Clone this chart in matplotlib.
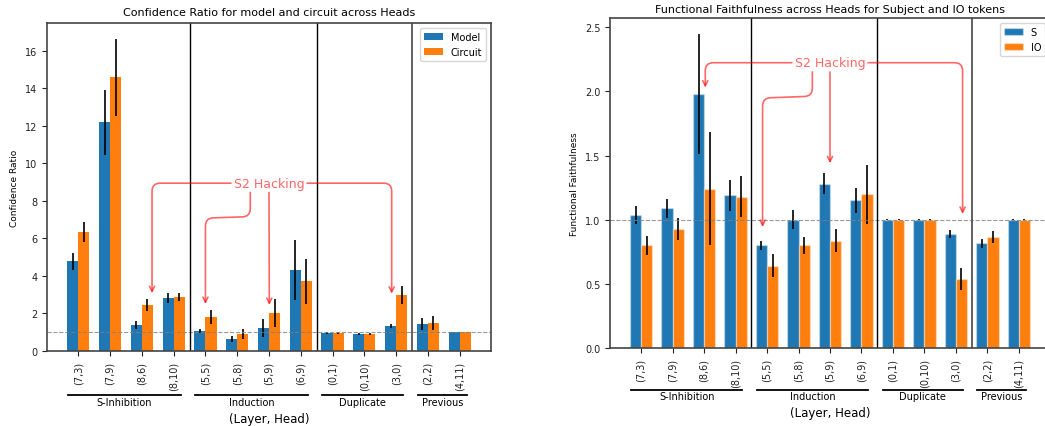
import numpy as np
import matplotlib
matplotlib.use("Agg")
import matplotlib.pyplot as plt
from matplotlib.transforms import blended_transform_factory

heads = ["(7,3)", "(7,9)", "(8,6)", "(8,10)", "(5,5)", "(5,8)", "(5,9)", "(6,9)",
         "(0,1)", "(0,10)", "(3,0)", "(2,2)", "(4,11)"]
groups = ["S-Inhibition", "Induction", "Duplicate", "Previous"]
group_sizes = [4, 4, 3, 2]

# left panel: confidence ratio
model_ratio = [4.79, 12.18, 1.38, 2.82, 1.06, 0.64, 1.22, 4.31, 0.97, 0.90, 1.33, 1.44, 1.01]
model_err = [0.45, 1.72, 0.23, 0.28, 0.10, 0.16, 0.49, 1.60, 0.05, 0.05, 0.12, 0.33, 0.02]
circuit_ratio = [6.33, 14.57, 2.45, 2.87, 1.81, 0.90, 2.02, 3.72, 0.97, 0.90, 2.98, 1.49, 1.01]
circuit_err = [0.53, 2.07, 0.34, 0.20, 0.38, 0.26, 0.74, 1.20, 0.05, 0.05, 0.50, 0.38, 0.02]

# right panel: functional faithfulness
s_faith = [1.04, 1.09, 1.98, 1.19, 0.80, 1.00, 1.28, 1.15, 1.00, 1.00, 0.89, 0.815, 1.00]
s_err = [0.07, 0.075, 0.47, 0.12, 0.035, 0.075, 0.082, 0.10, 0.005, 0.005, 0.03, 0.033, 0.003]
io_faith = [0.80, 0.93, 1.24, 1.18, 0.64, 0.80, 0.836, 1.20, 1.00, 1.00, 0.54, 0.865, 1.00]
io_err = [0.073, 0.086, 0.44, 0.16, 0.09, 0.066, 0.09, 0.23, 0.005, 0.005, 0.085, 0.05, 0.003]

blue = "#1f77b4"
orange = "#ff7f0e"
hack = (1.0, 0.0, 0.0, 0.6)
spine_col = "#444444"

plt.rcParams["font.family"] = "DejaVu Sans"

fig = plt.figure(figsize=(10.45, 4.27), dpi=100)
ax1 = fig.add_axes([47 / 1045, 75 / 427, 444 / 1045, 328 / 427])
ax2 = fig.add_axes([610 / 1045, 78 / 427, 440 / 1045, 330 / 427])

x = np.arange(len(heads))
w = 0.35


def draw(ax, a, ae, b, be, labels, title, ylabel, ann, text_y, lw_edge):
    ax.bar(x - w / 2, a, w, yerr=ae, color=blue, label=labels[0], error_kw=dict(lw=1.2),
           edgecolor=(1, 1, 1, 0.35), linewidth=lw_edge)
    ax.bar(x + w / 2, b, w, yerr=be, color=orange, label=labels[1], error_kw=dict(lw=1.2),
           edgecolor=(1, 1, 1, 0.35), linewidth=lw_edge)
    ax.axhline(1.0, color="gray", ls="--", lw=0.8, alpha=0.8)
    bounds = np.cumsum(group_sizes)[:-1] - 0.5
    for k, bx in enumerate(bounds):
        ax.axvline(bx, color="black" if k < 2 else "#555555", lw=1.0 if k < 2 else 1.3)
    ax.set_xticks(x)
    ax.set_xticklabels(heads, rotation=90, fontsize=7)
    ax.tick_params(axis="y", labelsize=7, colors="#222222")
    ax.tick_params(axis="x", colors="#222222")
    for s in ax.spines.values():
        s.set_color(spine_col)
        s.set_linewidth(1.2)
    ax.set_title(title, fontsize=8, pad=ann["title_pad"])
    ax.set_ylabel(ylabel, fontsize=6.5)
    ax.set_xlabel("(Layer, Head)", fontsize=8.5)
    ax.xaxis.set_label_coords(0.5, ann["xlabel_y"])

    ax.legend(loc="upper right", fontsize=7)

    tr = blended_transform_factory(ax.transData, ax.transAxes)
    start = 0
    for name, n in zip(groups, group_sizes):
        x0, x1 = start - 0.32, start + n - 1 + 0.22
        ax.plot([x0, x1], [ann["line_y"], ann["line_y"]], color="black", lw=1.3,
                transform=tr, clip_on=False)
        ax.text((x0 + x1) / 2, ann["text_y"], name, transform=tr, ha="center",
                va="center", fontsize=7)
        start += n

    tx = 6.0
    ax.text(tx, text_y, "S2 Hacking", color=hack, fontsize=9, ha="center", va="center")
    for tip, style, rel in ann["arrows"]:
        ax.annotate("S2 Hacking", xy=tip, xytext=(tx, text_y), color=(0, 0, 0, 0),
                    fontsize=9, ha="center", va="center",
                    arrowprops=dict(arrowstyle="->", color=hack, lw=1.2,
                                    connectionstyle=style, relpos=rel,
                                    shrinkA=0, shrinkB=0))


left_ann = dict(
    line_y=-0.134, text_y=-0.156, xlabel_y=-0.185, title_pad=6,
    arrows=[((2.32, 3.08), "angle,angleA=0,angleB=90,rad=8", (0.0, 0.5)),
            ((4.0, 2.5), "arc,angleA=-90,angleB=90,armA=27,armB=86,rad=8", (0.235, 0.0)),
            ((6.01, 2.45), "arc3", (0.5, 0.0)),
            ((9.86, 3.05), "angle,angleA=0,angleB=90,rad=8", (1.0, 0.5))])
right_ann = dict(
    line_y=-0.127, text_y=-0.145, xlabel_y=-0.176, title_pad=4,
    arrows=[((2.04, 2.03), "angle,angleA=0,angleB=90,rad=8", (0.0, 0.5)),
            ((3.86, 0.943), "arc,angleA=-90,angleB=90,armA=27,armB=129,rad=8", (0.25, 0.0)),
            ((6.0, 1.44), "arc3", (0.5, 0.0)),
            ((10.21, 1.045), "angle,angleA=0,angleB=90,rad=8", (1.0, 0.5))])

draw(ax1, model_ratio, model_err, circuit_ratio, circuit_err, ("Model", "Circuit"),
     "Confidence Ratio for model and circuit across Heads", "Confidence Ratio",
     left_ann, 8.94, 0)
draw(ax2, s_faith, s_err, io_faith, io_err, ("S", "IO"),
     "Functional Faithfulness across Heads for Subject and IO tokens",
     "Functional Faithfulness", right_ann, 2.224, 1.0)

fig.savefig("out.png", dpi=100)
